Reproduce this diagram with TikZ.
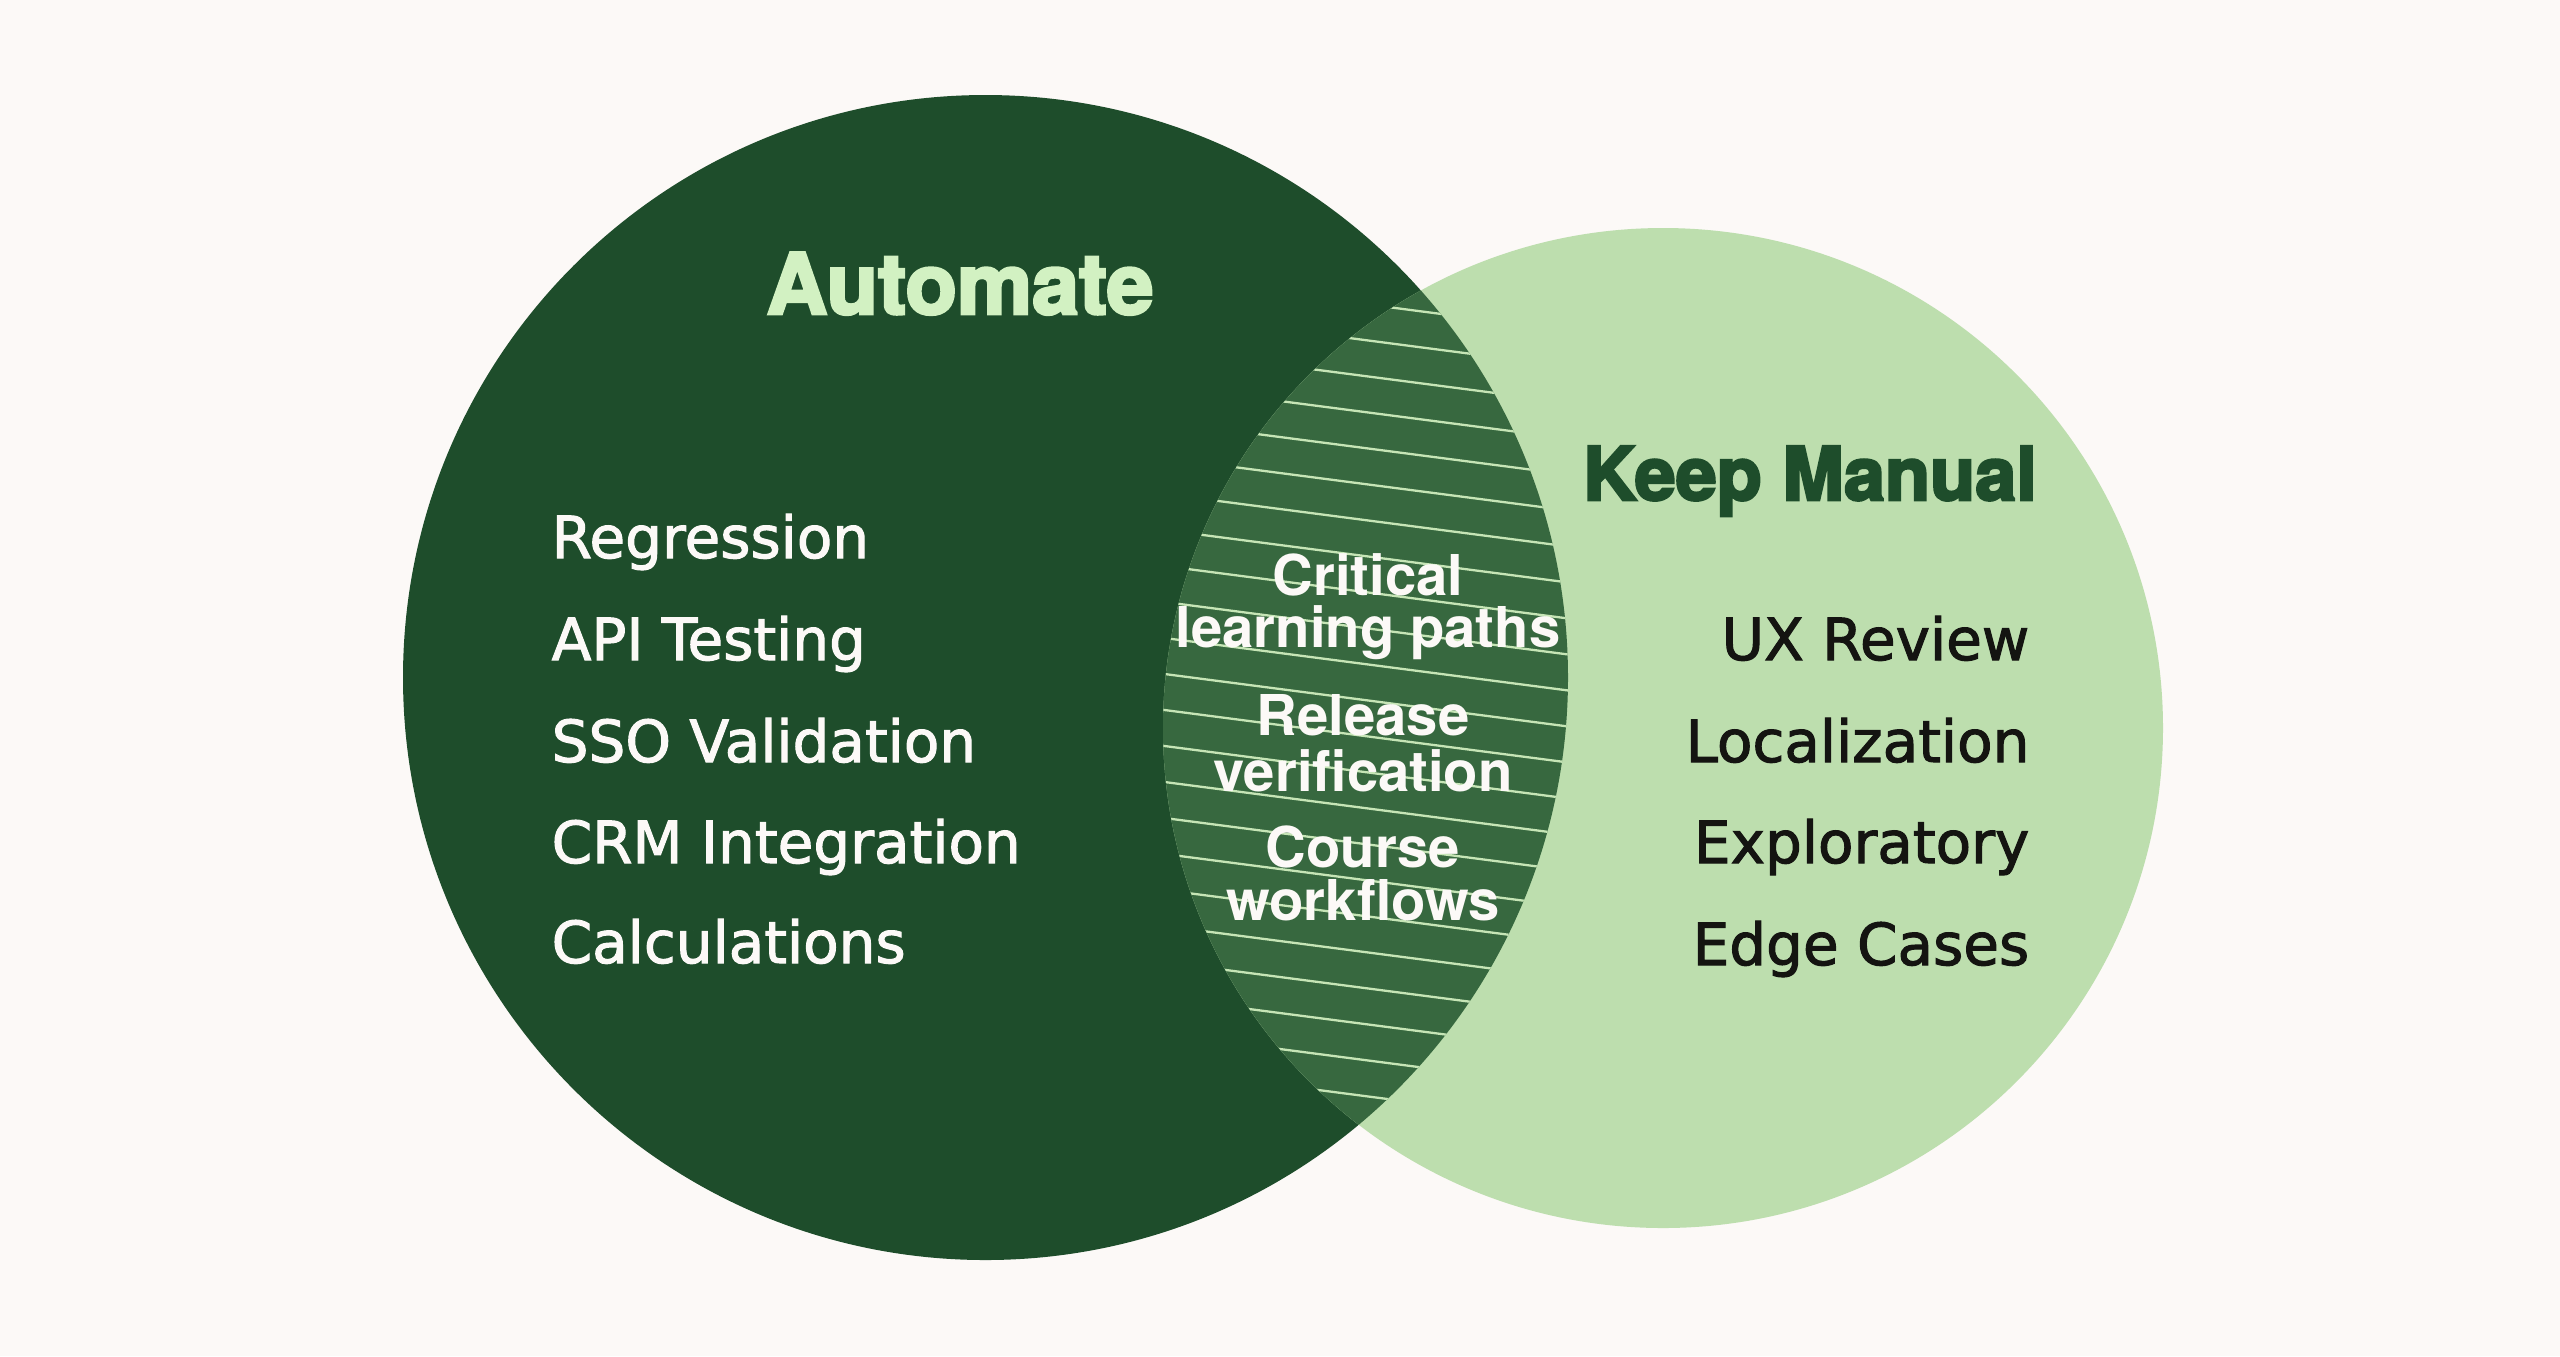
\documentclass[tikz,border=0pt]{standalone}
\usepackage{fontspec}
\setmainfont{TeX Gyre Heros}
\newfontfamily\itemfont{DejaVu Sans}
\usepackage{xcolor}
\usetikzlibrary{positioning}
\definecolor{paper}{HTML}{FCF9F7}
\definecolor{forest}{HTML}{1E4D2B}
\definecolor{sage}{HTML}{BDDEAE}
\definecolor{moss}{HTML}{37683F}
\definecolor{mint}{HTML}{D2F1C2}
\definecolor{ink}{HTML}{141411}
\definecolor{hatchline}{HTML}{C6E5B6}
% thicker strokes for text
\newcommand\thicken[2]{\special{pdf:literal direct #1 w 2 Tr}#2\special{pdf:literal direct 0 Tr}}

\begin{document}
\begin{tikzpicture}[x=0.01cm, y=-0.01cm,
    heading/.style={font=\bfseries\fontsize{24}{24}\selectfont, anchor=base, inner sep=0pt},
    leftitem/.style={text=paper, font=\itemfont\fontsize{16.5}{16.5}\selectfont, anchor=base west, inner sep=0pt},
    rightitem/.style={text=ink, font=\itemfont\fontsize{16.5}{16.5}\selectfont, anchor=base east, inner sep=0pt},
    overlap/.style={text=paper, font=\bfseries\fontsize{16}{16}\selectfont, anchor=base, inner sep=0pt},
    hatch/.style={draw=hatchline, line width=0.65pt}]
  \useasboundingbox (0,0) rectangle (2560,1356);
  \fill[paper] (0,0) rectangle (2560,1356);
  % the two sets
  \fill[forest] (985.5,677.5) circle (582.5);
  \fill[sage] (1663,728) circle (500);
  % shared part, hatched
  \begin{scope}
    \clip (985.5,677.5) circle (582.5);
    \fill[moss] (1663,728) circle (500);
    \clip (1663,728) circle (500);
    \foreach \i in {-8,...,22}
      \draw[hatch] (1100,{413.6+36*\i}) -- (1600,{478.6+36*\i});
  \end{scope}
  % headings
  \node[heading, text=mint] (automate) at (960,314) {\thicken{0.8}{Automate}};
  \node[heading, text=forest, font=\bfseries\fontsize{21}{21}\selectfont] (keepmanual) at (1810,500) {\thicken{0.7}{Keep Manual}};
  % automate list
  \node[leftitem] (regression) at (551,558) {\thicken{0.3}{Regression}};
  \node[leftitem] (api) at (551,660) {\thicken{0.3}{API Testing}};
  \node[leftitem] (sso) at (551,762) {\thicken{0.3}{SSO Validation}};
  \node[leftitem] (crm) at (551,863) {\thicken{0.3}{CRM Integration}};
  \node[leftitem] (calc) at (551,963) {\thicken{0.3}{Calculations}};
  % manual list
  \node[rightitem] (ux) at (2030,660) {\thicken{0.3}{UX Review}};
  \node[rightitem] (local) at (2030,762) {\thicken{0.3}{Localization}};
  \node[rightitem] (explore) at (2030,863) {\thicken{0.3}{Exploratory}};
  \node[rightitem] (edge) at (2030,965) {\thicken{0.3}{Edge Cases}};
  % both
  \node[overlap] (critical) at (1368,595) {Critical};
  \node[overlap] (learning) at (1368,647) {learning paths};
  \node[overlap] (release) at (1363,735) {Release};
  \node[overlap] (verify) at (1363,791) {verification};
  \node[overlap] (course) at (1363,867) {Course};
  \node[overlap] (workflows) at (1363,920) {workflows};
\end{tikzpicture}
\end{document}
